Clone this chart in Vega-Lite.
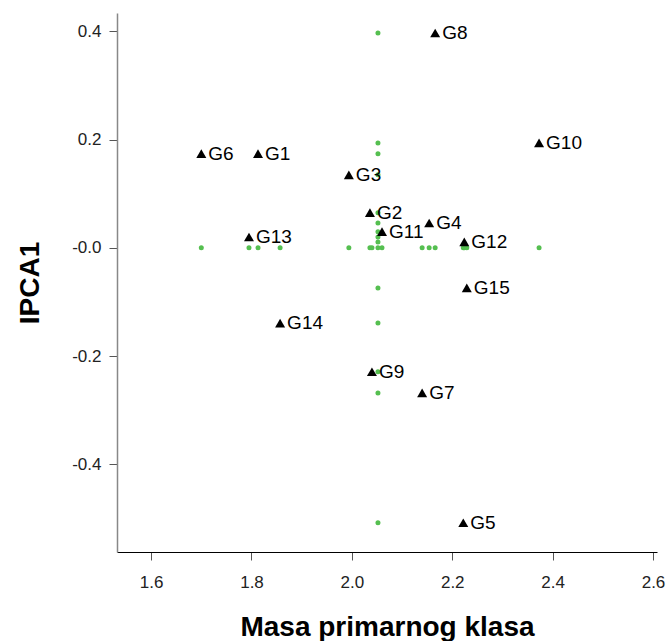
{
  "$schema": "https://vega.github.io/schema/vega-lite/v6.json",
  "width": 540,
  "height": 539,
  "autosize": {"type": "none"},
  "padding": {"left": 117, "top": 13, "right": 10, "bottom": 89},
  "background": "white",
  "config": {"view": {"stroke": null}, "font": "Liberation Sans"},
  "datasets": {
    "genotypes": [
      {"label": "G1", "mass": 1.813, "ipca1": 0.174},
      {"label": "G2", "mass": 2.036, "ipca1": 0.065},
      {"label": "G3", "mass": 1.994, "ipca1": 0.135},
      {"label": "G4", "mass": 2.154, "ipca1": 0.046},
      {"label": "G5", "mass": 2.222, "ipca1": -0.508},
      {"label": "G6", "mass": 1.700, "ipca1": 0.174},
      {"label": "G7", "mass": 2.140, "ipca1": -0.268},
      {"label": "G8", "mass": 2.166, "ipca1": 0.397},
      {"label": "G9", "mass": 2.040, "ipca1": -0.229},
      {"label": "G10", "mass": 2.373, "ipca1": 0.194},
      {"label": "G11", "mass": 2.060, "ipca1": 0.030},
      {"label": "G12", "mass": 2.224, "ipca1": 0.011},
      {"label": "G13", "mass": 1.795, "ipca1": 0.020},
      {"label": "G14", "mass": 1.857, "ipca1": -0.139},
      {"label": "G15", "mass": 2.229, "ipca1": -0.074}
    ],
    "projections": [
      {"mass": 1.813, "ipca1": 0},
      {"mass": 2.036, "ipca1": 0},
      {"mass": 1.994, "ipca1": 0},
      {"mass": 2.154, "ipca1": 0},
      {"mass": 2.222, "ipca1": 0},
      {"mass": 1.700, "ipca1": 0},
      {"mass": 2.140, "ipca1": 0},
      {"mass": 2.166, "ipca1": 0},
      {"mass": 2.040, "ipca1": 0},
      {"mass": 2.373, "ipca1": 0},
      {"mass": 2.060, "ipca1": 0},
      {"mass": 2.224, "ipca1": 0},
      {"mass": 1.795, "ipca1": 0},
      {"mass": 1.857, "ipca1": 0},
      {"mass": 2.229, "ipca1": 0},
      {"mass": 2.052, "ipca1": 0},
      {"mass": 2.052, "ipca1": 0.174},
      {"mass": 2.052, "ipca1": 0.065},
      {"mass": 2.052, "ipca1": 0.135},
      {"mass": 2.052, "ipca1": 0.046},
      {"mass": 2.052, "ipca1": -0.508},
      {"mass": 2.052, "ipca1": -0.268},
      {"mass": 2.052, "ipca1": 0.397},
      {"mass": 2.052, "ipca1": -0.229},
      {"mass": 2.052, "ipca1": 0.194},
      {"mass": 2.052, "ipca1": 0.030},
      {"mass": 2.052, "ipca1": 0.011},
      {"mass": 2.052, "ipca1": 0.020},
      {"mass": 2.052, "ipca1": -0.139},
      {"mass": 2.052, "ipca1": -0.074}
    ]
  },
  "layer": [
    {
      "mark": {"type": "rule", "color": "black", "strokeWidth": 1},
      "encoding": {
        "y": {"datum": 0.434, "type": "quantitative", "scale": {"domain": [-0.562, 0.434], "nice": false, "zero": false}}
      }
    },
    {
      "data": {"name": "projections"},
      "mark": {"type": "circle", "color": "#55bf50", "size": 25, "opacity": 1},
      "encoding": {
        "x": {
          "field": "mass", "type": "quantitative",
          "scale": {"domain": [1.532, 2.608], "nice": false, "zero": false},
          "axis": {
            "title": "Masa primarnog klasa", "values": [1.6, 1.8, 2.0, 2.2, 2.4, 2.6], "format": ".1f",
            "grid": false, "domainColor": "black", "domainWidth": 1, "tickColor": "#555", "tickSize": 8,
            "labelFontSize": 17, "labelPadding": 14, "labelColor": "#222", "labelFont": "Liberation Sans",
            "titleFontSize": 28, "titleFontWeight": "bold", "titlePadding": 23, "titleColor": "black", "titleFont": "Liberation Sans"
          }
        },
        "y": {
          "field": "ipca1", "type": "quantitative",
          "scale": {"domain": [-0.562, 0.434], "nice": false, "zero": false},
          "axis": {
            "title": "IPCA1", "values": [-0.4, -0.2, 0, 0.2, 0.4],
            "labelExpr": "datum.value <= 0 ? '-' + format(abs(datum.value), '.1f') : format(datum.value, '.1f')",
            "grid": false, "domainColor": "#888", "domainWidth": 1.5, "tickColor": "#555", "tickSize": 8,
            "labelFontSize": 17, "labelPadding": 8, "labelColor": "#222", "labelFont": "Liberation Sans",
            "titleFontSize": 28, "titleFontWeight": "bold", "titlePadding": 27, "titleColor": "black", "titleFont": "Liberation Sans"
          }
        }
      }
    },
    {
      "data": {"name": "genotypes"},
      "mark": {"type": "point", "shape": "triangle-up", "filled": true, "color": "black", "size": 100, "opacity": 1},
      "encoding": {
        "x": {"field": "mass", "type": "quantitative", "scale": {"domain": [1.532, 2.608], "nice": false, "zero": false}},
        "y": {"field": "ipca1", "type": "quantitative", "scale": {"domain": [-0.562, 0.434], "nice": false, "zero": false}}
      }
    },
    {
      "data": {"name": "genotypes"},
      "mark": {"type": "text", "align": "left", "baseline": "middle", "dx": 7, "fontSize": 19, "color": "black", "font": "Liberation Sans"},
      "encoding": {
        "x": {"field": "mass", "type": "quantitative", "scale": {"domain": [1.532, 2.608], "nice": false, "zero": false}},
        "y": {"field": "ipca1", "type": "quantitative", "scale": {"domain": [-0.562, 0.434], "nice": false, "zero": false}},
        "text": {"field": "label"}
      }
    }
  ]
}
